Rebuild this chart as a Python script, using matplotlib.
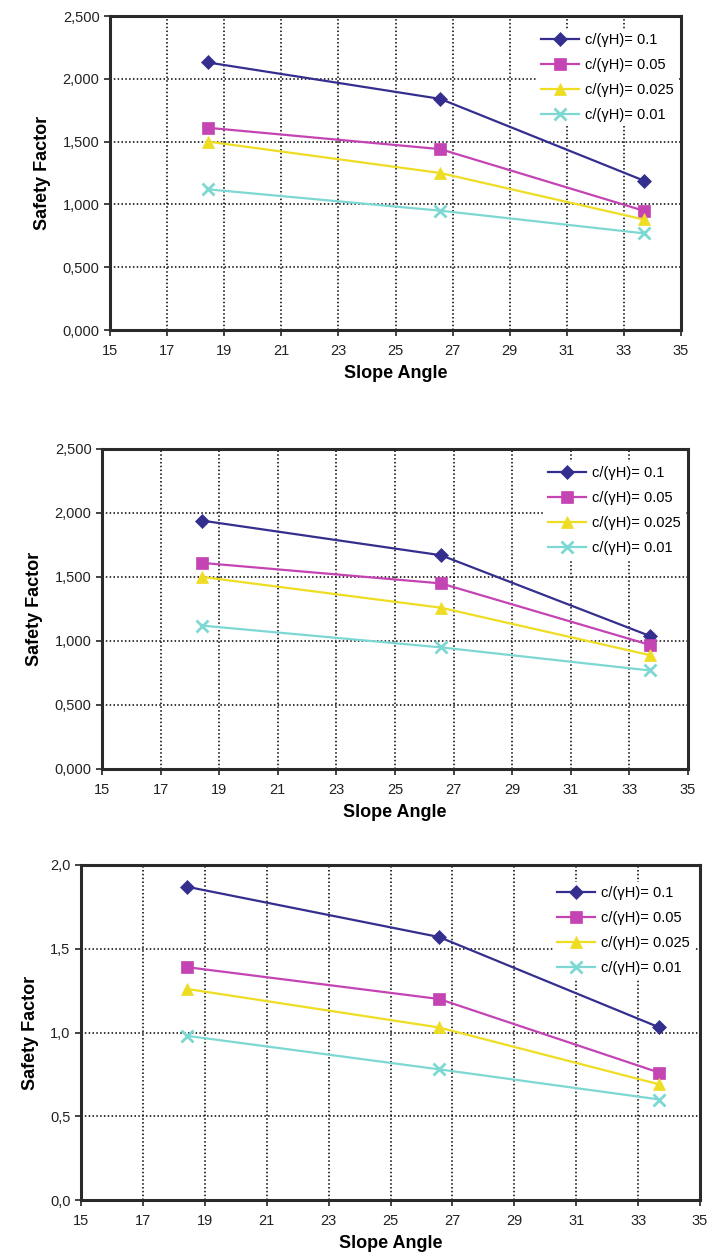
import numpy as np
import matplotlib.pyplot as plt
from matplotlib.ticker import FuncFormatter, MultipleLocator

plt.rcParams['font.family'] = ['Liberation Sans', 'DejaVu Sans']

# slope angles (deg)
angles = [18.43, 26.57, 33.69]
xticks = list(range(15, 36, 2))
labels = ['c/(γH)= 0.1', 'c/(γH)= 0.05', 'c/(γH)= 0.025', 'c/(γH)= 0.01']

# panel 1
fs1_01 = [2.13, 1.84, 1.19]
fs1_005 = [1.61, 1.44, 0.95]
fs1_0025 = [1.50, 1.25, 0.88]
fs1_001 = [1.12, 0.95, 0.77]

# panel 2
fs2_01 = [1.94, 1.67, 1.04]
fs2_005 = [1.61, 1.45, 0.97]
fs2_0025 = [1.50, 1.26, 0.89]
fs2_001 = [1.12, 0.95, 0.77]

# panel 3
fs3_01 = [1.87, 1.57, 1.03]
fs3_005 = [1.39, 1.20, 0.76]
fs3_0025 = [1.26, 1.03, 0.69]
fs3_001 = [0.98, 0.78, 0.60]

colors = ['#342F8E', '#C444B4', '#EEDD22', '#7DD8D4']
markers = ['D', 's', '^', 'x']
msizes = [7, 9, 9, 9]

W, H = 710, 1258
fig = plt.figure(figsize=(W / 100, H / 100), dpi=100)


def box(x0, x1, y0, y1):
    return [x0 / W, 1 - y1 / H, (x1 - x0) / W, (y1 - y0) / H]


def panel(rect, series, ymax, dec, leg_anchor, leg_fs):
    ax = fig.add_axes(rect)
    for vals, lab, c, m, ms in zip(series, labels, colors, markers, msizes):
        ax.plot(angles, vals, color=c, marker=m, markersize=ms, lw=1.6,
                markeredgewidth=2 if m == 'x' else 0.5, label=lab, zorder=3)
    ax.set_xlim(15, 35)
    ax.set_ylim(0, ymax)
    ax.set_xticks(xticks)
    ax.yaxis.set_major_locator(MultipleLocator(0.5))
    ax.yaxis.set_major_formatter(FuncFormatter(lambda v, p: f'{v:.{dec}f}'.replace('.', ',')))
    ax.grid(True, color='black', linestyle=(0, (1, 1.5)), linewidth=1.1)
    for s in ax.spines.values():
        s.set_linewidth(2.2)
        s.set_color('#2a2a2a')
    ax.tick_params(direction='out', length=4, width=1.2, labelsize=10.5, colors='#222222')
    ax.tick_params(axis='x', pad=6)
    ax.set_xlabel('Slope Angle', fontsize=13, fontweight='bold', labelpad=5)
    ax.set_ylabel('Safety Factor', fontsize=13, fontweight='bold', labelpad=8)
    leg = ax.legend(loc='upper right', bbox_to_anchor=leg_anchor, fontsize=leg_fs,
                    frameon=True, framealpha=1, edgecolor='none', facecolor='white',
                    handlelength=2.6, borderaxespad=0, labelspacing=0.75,
                    handletextpad=0.4, borderpad=0.3, fancybox=False)
    leg.set_zorder(5)
    return ax


panel(box(110, 681, 16, 330), [fs1_01, fs1_005, fs1_0025, fs1_001], 2.5, 3, (0.995, 0.96), 10.5)
panel(box(102, 688, 449, 769), [fs2_01, fs2_005, fs2_0025, fs2_001], 2.5, 3, (0.995, 0.96), 10.5)
panel(box(81, 700, 865, 1200), [fs3_01, fs3_005, fs3_0025, fs3_001], 2.0, 1, (0.99, 0.95), 10.5)

plt.savefig('out.png', dpi=100)
